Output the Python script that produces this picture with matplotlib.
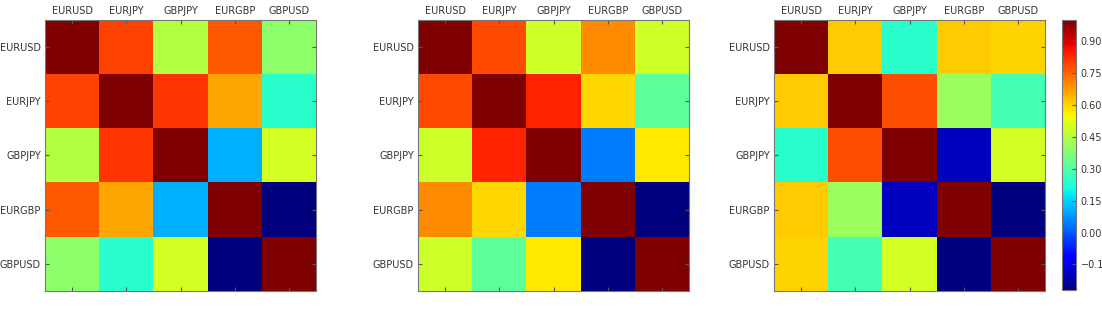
import matplotlib
matplotlib.use("Agg")
import matplotlib.pyplot as plt
import numpy as np

pairs = ["EURUSD", "EURJPY", "GBPJPY", "EURGBP", "GBPUSD"]

# upper triangle values, row by row: (0,1) (0,2) (0,3) (0,4) (1,2) (1,3) (1,4) (2,3) (2,4) (3,4)
corr_a = [0.79, 0.44, 0.76, 0.38, 0.81, 0.65, 0.22, 0.09, 0.49, -0.30]
corr_b = [0.79, 0.50, 0.70, 0.50, 0.84, 0.60, 0.33, 0.06, 0.58, -0.25]
corr_c = [0.61, 0.24, 0.61, 0.60, 0.78, 0.41, 0.28, -0.20, 0.50, -0.27]

cbar_ticks = [-0.15, 0.0, 0.15, 0.30, 0.45, 0.60, 0.75, 0.90]


def to_matrix(upper):
    n = len(pairs)
    m = np.eye(n)
    iu = np.triu_indices(n, 1)
    m[iu] = upper
    m.T[iu] = upper
    return m


W, H = 1102, 311
fig = plt.figure(figsize=(W / 100, H / 100), dpi=100)

lefts = [45, 418, 774]
size_w, size_h = 271, 271
top = 20

img = None
for left, vals in zip(lefts, [corr_a, corr_b, corr_c]):
    ax = fig.add_axes([left / W, 1 - (top + size_h) / H, size_w / W, size_h / H])
    img = ax.imshow(to_matrix(vals), cmap="jet", interpolation="nearest", aspect="auto")
    ax.set_xticks(range(len(pairs)))
    ax.set_yticks(range(len(pairs)))
    ax.set_xticklabels(pairs)
    ax.set_yticklabels(pairs)
    ax.xaxis.tick_top()
    ax.tick_params(direction="in", length=3, labelsize=7, labelcolor="#333333",
                   color="#555555", top=True, bottom=True, left=True, right=True, pad=3)
    for s in ax.spines.values():
        s.set_color("#777777")
        s.set_linewidth(0.8)

cax = fig.add_axes([1062 / W, 1 - 290 / H, 14 / W, 270 / H])
cb = fig.colorbar(img, cax=cax, ticks=cbar_ticks)
cb.ax.set_yticklabels([f"{t:.2f}".replace("-", "\u2212") for t in cbar_ticks])
cb.ax.tick_params(direction="in", length=3, labelsize=7, labelcolor="#333333", color="#555555")
cb.outline.set_edgecolor("#777777")
cb.outline.set_linewidth(0.8)

fig.savefig("out.png", dpi=100)
